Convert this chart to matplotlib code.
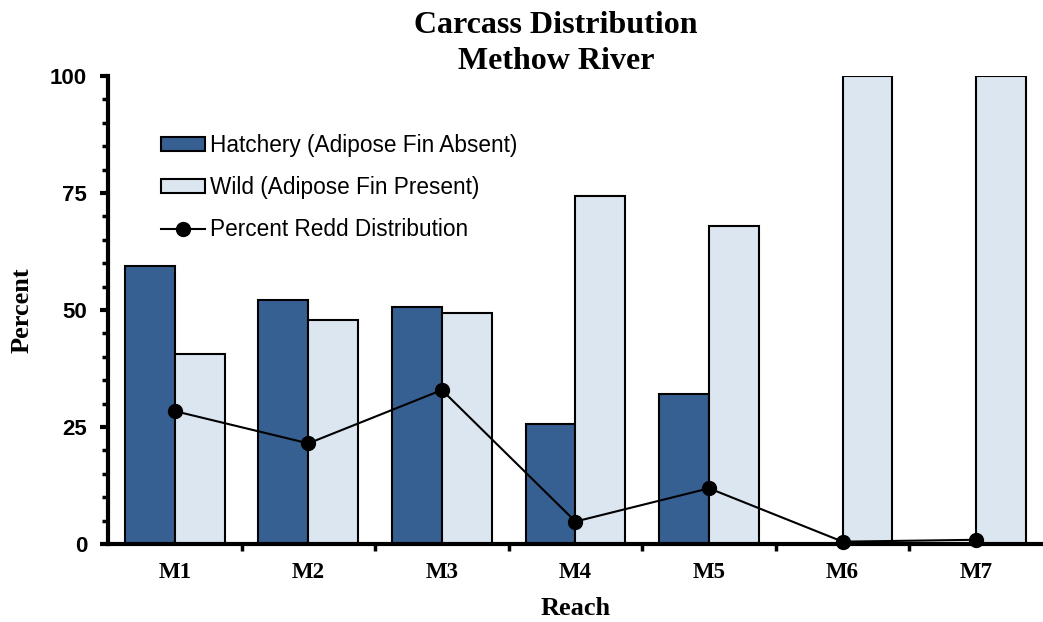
import matplotlib
matplotlib.use("Agg")
import matplotlib.pyplot as plt
import numpy as np
from matplotlib.lines import Line2D
from matplotlib.patches import Patch
from matplotlib.ticker import MultipleLocator

reaches = ["M1", "M2", "M3", "M4", "M5", "M6", "M7"]
hatchery = [59.4, 52.2, 50.6, 25.6, 32.0, 0, 0]
wild = [40.6, 47.8, 49.4, 74.4, 68.0, 100, 100]
redd = [28.4, 21.5, 32.9, 4.8, 11.9, 0.5, 0.9]

fig = plt.figure(figsize=(10.43, 6.22), dpi=100)
ax = fig.add_axes([0.1035, 0.1254, 0.8965, 0.7524])

x = np.arange(len(reaches))
w = 0.373
ax.bar(x - w / 2, hatchery, w, color="#366092", edgecolor="black", linewidth=1.5, zorder=2)
ax.bar(x + w / 2, wild, w, color="#DCE6F1", edgecolor="black", linewidth=1.5, zorder=2)
ax.plot(x, redd, color="black", linewidth=1.5, marker="o", markersize=10, zorder=3, clip_on=False)

ax.set_xlim(-0.5, 6.5)
ax.set_ylim(0, 100)
ax.spines["top"].set_visible(False)
ax.spines["right"].set_visible(False)
ax.spines["left"].set_linewidth(3)
ax.spines["bottom"].set_linewidth(3)

ax.yaxis.set_major_locator(MultipleLocator(25))
ax.yaxis.set_minor_locator(MultipleLocator(5))
ax.tick_params(axis="y", which="major", direction="out", length=6, width=3, labelsize=16, pad=9)
ax.tick_params(axis="y", which="minor", direction="out", length=4, width=2.5)
for lab in ax.get_yticklabels():
    lab.set_fontfamily("Liberation Sans")
    lab.set_fontweight("bold")

ax.set_xticks(x)
ax.set_xticklabels(reaches, fontfamily="Liberation Serif", fontweight="bold", fontsize=16.5)
ax.tick_params(axis="x", which="major", length=0, pad=13)
ax.set_xticks(np.arange(0.5, 6.5, 1), minor=True)
ax.tick_params(axis="x", which="minor", direction="out", length=5, width=2.5)

ax.set_ylabel("Percent", fontfamily="Liberation Serif", fontweight="bold", fontsize=19, labelpad=12)
ax.set_xlabel("Reach", fontfamily="Liberation Serif", fontweight="bold", fontsize=19, labelpad=10)

fig.text(0.533, 0.983, "Carcass Distribution\nMethow River", ha="center", va="top",
         fontfamily="Liberation Serif", fontweight="bold", fontsize=23, linespacing=1.36)

handles = [
    Patch(facecolor="#366092", edgecolor="black", linewidth=1.5),
    Patch(facecolor="#DCE6F1", edgecolor="black", linewidth=1.5),
    Line2D([0], [0], color="black", linewidth=1.5, marker="o", markersize=10),
]
labels = ["Hatchery (Adipose Fin Absent)", "Wild (Adipose Fin Present)", "Percent Redd Distribution"]
ax.legend(handles, labels, loc="upper left", bbox_to_anchor=(0.047, 0.896), frameon=False,
          prop={"family": "Liberation Sans", "size": 16.3}, handlelength=1.95, handleheight=0.55,
          handletextpad=0.22, labelspacing=0.85, borderaxespad=0)

fig.savefig("out.png", dpi=100)
